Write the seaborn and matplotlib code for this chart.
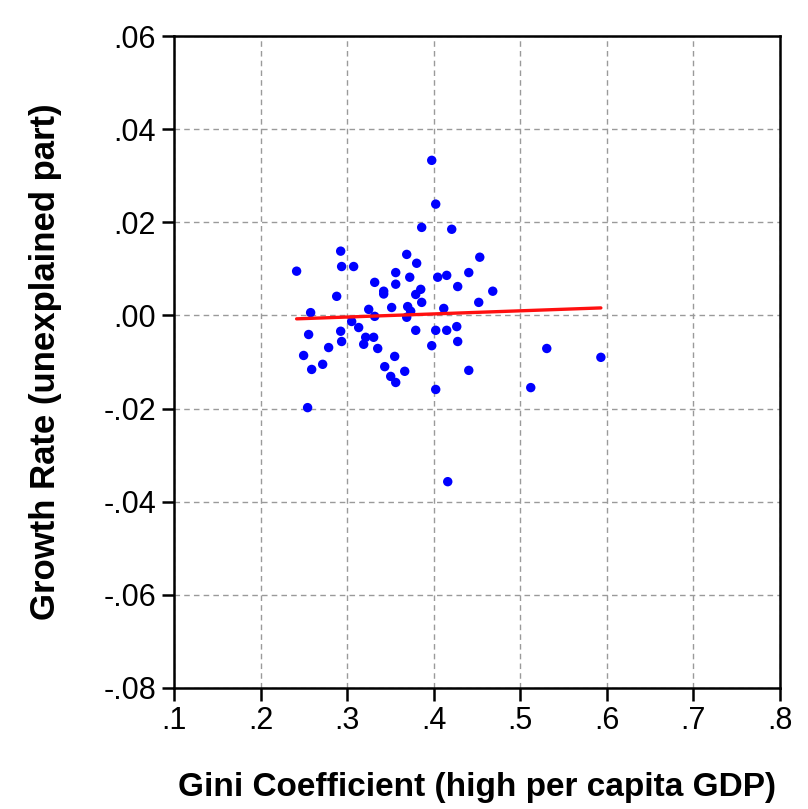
import matplotlib
matplotlib.use("Agg")
import matplotlib.pyplot as plt
import seaborn as sns
import numpy as np
import pandas as pd

gini = [0.2416, 0.2925, 0.2936, 0.3075, 0.3318, 0.2879, 0.2578, 0.3249, 0.2555, 0.2925,
        0.2936, 0.3052, 0.3133, 0.3214, 0.3306, 0.3191, 0.3353, 0.2786, 0.2497, 0.2590,
        0.2717, 0.2543, 0.3977, 0.4023, 0.3861, 0.4208, 0.3688, 0.3803, 0.4532, 0.3561,
        0.3723, 0.4046, 0.4150, 0.4405, 0.3422, 0.3561, 0.3850, 0.3792, 0.3861, 0.4277,
        0.4682, 0.3514, 0.3699, 0.3734, 0.3318, 0.3688, 0.4116, 0.4520, 0.3792, 0.4023,
        0.4150, 0.4266, 0.4277, 0.3977, 0.3549, 0.3434, 0.3665, 0.3503, 0.3561, 0.4405,
        0.4023, 0.4162, 0.5306, 0.5931, 0.5121, 0.3422]
growth = [0.0095, 0.0138, 0.0105, 0.0105, 0.0071, 0.0041, 0.0006, 0.0013, -0.0041, -0.0034,
          -0.0056, -0.0013, -0.0026, -0.0047, -0.0047, -0.0062, -0.0071, -0.0069, -0.0086, -0.0116,
          -0.0105, -0.0198, 0.0333, 0.0239, 0.0189, 0.0185, 0.0131, 0.0112, 0.0125, 0.0092,
          0.0082, 0.0082, 0.0086, 0.0092, 0.0052, 0.0067, 0.0056, 0.0045, 0.0028, 0.0062,
          0.0052, 0.0017, 0.0019, 0.0009, -0.0002, -0.0004, 0.0015, 0.0028, -0.0032, -0.0032,
          -0.0032, -0.0024, -0.0056, -0.0065, -0.0088, -0.0110, -0.0120, -0.0131, -0.0144, -0.0118,
          -0.0159, -0.0357, -0.0071, -0.0090, -0.0155, 0.0046]

x_ticks = [0.1, 0.2, 0.3, 0.4, 0.5, 0.6, 0.7, 0.8]
x_tick_labels = [".1", ".2", ".3", ".4", ".5", ".6", ".7", ".8"]
y_ticks = [0.06, 0.04, 0.02, 0.00, -0.02, -0.04, -0.06, -0.08]
y_tick_labels = [".06", ".04", ".02", ".00", "-.02", "-.04", "-.06", "-.08"]

df = pd.DataFrame({"gini": gini, "growth": growth})

sns.set_style("white")
plt.rcParams["font.family"] = ["Liberation Sans", "DejaVu Sans"]

fig = plt.figure(figsize=(8.08, 8.09), dpi=100)
ax = fig.add_axes([0.2154, 0.1496, 0.9653 - 0.2154, 0.9555 - 0.1496])

sns.scatterplot(data=df, x="gini", y="growth", ax=ax, color="#0000FF",
                s=46, edgecolor="none", zorder=3)
sns.regplot(data=df, x="gini", y="growth", ax=ax, scatter=False, ci=None,
            line_kws={"color": "#FF1010", "linewidth": 2.4, "zorder": 4})

ax.set_xlim(0.1, 0.8)
ax.set_ylim(-0.08, 0.06)
ax.set_xticks(x_ticks)
ax.set_xticklabels(x_tick_labels)
ax.set_yticks(y_ticks)
ax.set_yticklabels(y_tick_labels)

ax.grid(True, color="#9a9a9a", linestyle=(0, (4, 3)), linewidth=1.0)
ax.set_axisbelow(True)
for sp in ax.spines.values():
    sp.set_color("black")
    sp.set_linewidth(1.8)
    sp.set_visible(True)

ax.tick_params(axis="both", which="both", direction="out", length=9, width=1.8,
               color="black", labelcolor="black", labelsize=22, pad=4,
               bottom=True, left=True, top=False, right=False)

ax.set_xlabel("Gini Coefficient (high per capita GDP)", fontsize=24,
              fontweight="bold", labelpad=26, color="black")
ax.set_ylabel("Growth Rate (unexplained part)", fontsize=25,
              fontweight="bold", labelpad=30, color="black")

fig.savefig("out.png", dpi=100)
